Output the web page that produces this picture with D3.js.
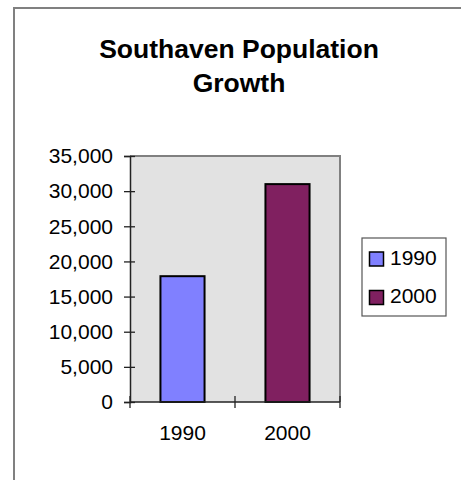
<!DOCTYPE html>
<html>
<head>
<meta charset="utf-8">
<script src="https://cdn.jsdelivr.net/npm/d3@7"></script>
<style>
  html, body { margin: 0; padding: 0; background: #fff; }
  svg { display: block; font-family: Arial, "Liberation Sans", sans-serif; }
</style>
</head>
<body>
<svg id="container"></svg>
<script>
// chart data
const categories = ["1990", "2000"];
const population = [17900, 31000];
const seriesColors = ["#8080ff", "#802060"];
const yTicks = [0, 5000, 10000, 15000, 20000, 25000, 30000, 35000];
const titleLines = ["Southaven Population", "Growth"];

const width = 461, height = 480;
const plot = {left: 130, right: 340, top: 156, bottom: 402};

const svg = d3.select("#container")
    .attr("width", width)
    .attr("height", height);

// outer chart frame (only top/left edges visible in the crop)
svg.append("path")
    .attr("d", `M14,${height + 2}V8H${width + 2}`)
    .attr("fill", "none")
    .attr("stroke", "#808080")
    .attr("stroke-width", 2);

// title
svg.append("text")
    .attr("text-anchor", "middle")
    .attr("font-weight", "bold")
    .attr("font-size", 26.5)
    .selectAll("tspan")
    .data(titleLines)
    .join("tspan")
    .attr("x", 239)
    .attr("y", (d, i) => 57.5 + i * 34.5)
    .text(d => d);

const x = d3.scaleBand()
    .domain(categories)
    .range([plot.left, plot.right])
    .paddingInner(0.58)
    .paddingOuter(0.29);

const y = d3.scaleLinear()
    .domain([0, 35000])
    .range([plot.bottom, plot.top]);

// plot area
svg.append("rect")
    .attr("x", plot.left)
    .attr("y", plot.top)
    .attr("width", plot.right - plot.left)
    .attr("height", plot.bottom - plot.top)
    .attr("fill", "#e2e2e2");

svg.append("path")
    .attr("d", `M${plot.left},${plot.top}H${plot.right}V${plot.bottom}`)
    .attr("fill", "none")
    .attr("stroke", "#808080")
    .attr("stroke-width", 2);

// bars
svg.append("g")
    .selectAll("rect")
    .data(categories)
    .join("rect")
    .attr("x", d => x(d))
    .attr("y", (d, i) => y(population[i]))
    .attr("width", x.bandwidth())
    .attr("height", (d, i) => y(0) - y(population[i]))
    .attr("fill", (d, i) => seriesColors[i])
    .attr("stroke", "#000")
    .attr("stroke-width", 2);

// y axis
const yAxis = svg.append("g")
    .attr("transform", `translate(${plot.left},0)`)
    .call(d3.axisLeft(y)
        .tickValues(yTicks)
        .tickFormat(d3.format(","))
        .tickSize(6)
        .tickPadding(11));
yAxis.select(".domain")
    .attr("stroke", "#222")
    .attr("stroke-width", 1.5);
yAxis.selectAll(".tick line")
    .attr("x1", 5)
    .attr("x2", -6)
    .attr("stroke", "#222")
    .attr("stroke-width", 1.3);
yAxis.selectAll(".tick text")
    .attr("font-size", 21)
    .attr("font-family", "Arial, 'Liberation Sans', sans-serif")
    .attr("fill", "#000");

// x axis
svg.append("line")
    .attr("x1", plot.left)
    .attr("x2", plot.right)
    .attr("y1", plot.bottom)
    .attr("y2", plot.bottom)
    .attr("stroke", "#222")
    .attr("stroke-width", 1.5);

const bounds = d3.range(categories.length + 1).map(i => x.range()[0] + i * x.step());
svg.append("g")
    .selectAll("line")
    .data(bounds)
    .join("line")
    .attr("x1", d => d)
    .attr("x2", d => d)
    .attr("y1", plot.bottom - 6)
    .attr("y2", plot.bottom + 6)
    .attr("stroke", "#222")
    .attr("stroke-width", 1.3);

svg.append("g")
    .selectAll("text")
    .data(categories)
    .join("text")
    .attr("x", d => x(d) + x.bandwidth() / 2)
    .attr("y", 440)
    .attr("text-anchor", "middle")
    .attr("font-size", 21)
    .text(d => d);

// legend
const legend = svg.append("g")
    .attr("transform", "translate(362,238)");

legend.append("rect")
    .attr("width", 84)
    .attr("height", 78)
    .attr("fill", "#fff")
    .attr("stroke", "#555")
    .attr("stroke-width", 1.2);

const item = legend.selectAll("g")
    .data(categories)
    .join("g")
    .attr("transform", (d, i) => `translate(0,${i * 38.5})`);

item.append("rect")
    .attr("x", 7.5)
    .attr("y", 14)
    .attr("width", 14)
    .attr("height", 14)
    .attr("fill", (d, i) => seriesColors[i])
    .attr("stroke", "#000")
    .attr("stroke-width", 1.5);

item.append("text")
    .attr("x", 28)
    .attr("y", 26.5)
    .attr("font-size", 21)
    .text(d => d);
</script>
</body>
</html>
